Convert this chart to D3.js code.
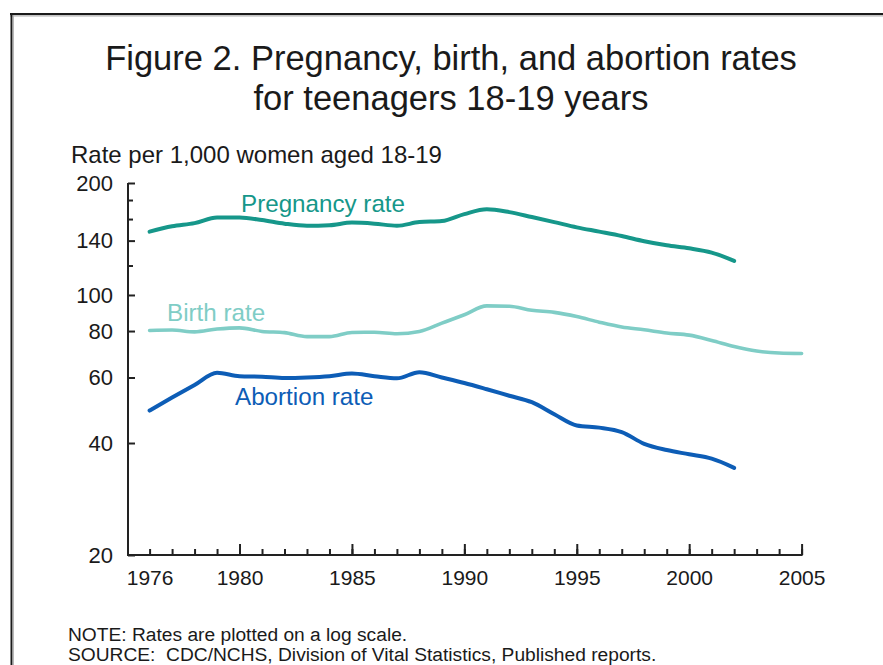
<!DOCTYPE html>
<html>
<head>
<meta charset="utf-8">
<script src="https://cdn.jsdelivr.net/npm/d3@7"></script>
<style>
  html, body { margin: 0; padding: 0; background: #fff; }
  svg { display: block; font-family: "Liberation Sans", Arial, Helvetica, sans-serif; }
</style>
</head>
<body>
<svg id="chart" width="883" height="665"></svg>
<script>
// ---- Data ----
const years = [1976,1977,1978,1979,1980,1981,1982,1983,1984,1985,1986,1987,1988,1989,1990,
               1991,1992,1993,1994,1995,1996,1997,1998,1999,2000,2001,2002,2003,2004,2005];
const pregnancyRate = [148,153,156,161.5,161.5,159,155.5,153.5,154,156.5,155.5,153.5,157,158,165,
                       170,167,162,157,152,148,144,139.5,136,133.5,130,123.5];
const birthRate = [80.3,80.5,79.6,81,81.6,79.8,79.2,77.3,77.3,79.3,79.4,78.7,79.8,84,88.5,
                   93.5,93.3,91,89.8,87.5,84.5,82,80.6,79,78,75.5,72.7,70.7,69.8,69.6];
const abortionRate = [48.9,53,57.3,61.8,60.5,60.3,59.8,60,60.5,61.5,60.5,59.7,62,60,58,
                      55.8,53.6,51.5,47.8,44.6,44,42.8,39.8,38.3,37.3,36.3,34.3];
const yMajorTicks = [200,140,100,80,60,40,20];
const yMinorTicks = [180,160,120];
const xMajorTicks = [1976,1980,1985,1990,1995,2000,2005];
const xLongTicks = [1980,1985,1990,1995,2000,2005];
const seriesNames = ["Pregnancy rate","Birth rate","Abortion rate"];
const titleLines = ["Figure 2. Pregnancy, birth, and abortion rates","for teenagers 18-19 years"];
const yTitle = "Rate per 1,000 women aged 18-19";
const notes = ["NOTE: Rates are plotted on a log scale.",
               "SOURCE:  CDC/NCHS, Division of Vital Statistics, Published reports."];

// ---- Layout ----
const svg = d3.select("#chart");
const axisX = 128;
const x = d3.scaleLinear().domain([1976, 2005]).range([149.6, 801.6]);
const y = d3.scaleLog().domain([20, 200]).range([555, 183]);

// frame (top and left edges)
svg.append("line").attr("x1", 10).attr("x2", 883).attr("y1", 14).attr("y2", 14)
  .attr("stroke", "#1b1b1b").attr("stroke-width", 2);
svg.append("line").attr("x1", 10).attr("x2", 883).attr("y1", 15.8).attr("y2", 15.8)
  .attr("stroke", "#b0b0b0").attr("stroke-width", 1.2);
svg.append("line").attr("x1", 11.5).attr("x2", 11.5).attr("y1", 13).attr("y2", 665)
  .attr("stroke", "#1b1b1b").attr("stroke-width", 2);
svg.append("line").attr("x1", 13.3).attr("x2", 13.3).attr("y1", 15).attr("y2", 665)
  .attr("stroke", "#b0b0b0").attr("stroke-width", 1.2);

// title
svg.append("g").selectAll("text").data(titleLines).join("text")
  .attr("x", 451).attr("y", (d, i) => 70 + i * 40)
  .attr("text-anchor", "middle").attr("font-size", 34.5).attr("fill", "#1a1a1a")
  .text(d => d);

// y axis title
svg.append("text").attr("x", 71).attr("y", 163).attr("font-size", 24).attr("fill", "#1a1a1a").text(yTitle);

const axisColor = "#222";

// y axis
const gy = svg.append("g").attr("transform", `translate(${axisX},0)`);
gy.call(d3.axisLeft(y).tickValues(yMajorTicks).tickFormat(d3.format("d"))
  .tickSizeInner(-7).tickSizeOuter(0).tickPadding(15));
gy.append("g").call(d3.axisLeft(y).tickValues(yMinorTicks).tickFormat("")
  .tickSizeInner(-5).tickSizeOuter(0));
gy.selectAll(".domain").remove();
gy.selectAll("line").attr("stroke", axisColor).attr("stroke-width", 2);
gy.selectAll("text").attr("font-size", 22).attr("fill", "#1a1a1a").attr("font-family", null);
gy.append("line").attr("x1", 0).attr("x2", 0).attr("y1", y(20) + 1).attr("y2", y(200))
  .attr("stroke", axisColor).attr("stroke-width", 2);

// x axis
const gx = svg.append("g").attr("transform", `translate(0,${y(20)})`);
gx.append("g").call(d3.axisBottom(x).tickValues(d3.range(1976, 2006)).tickFormat("")
  .tickSizeInner(-6).tickSizeOuter(0));
gx.append("g").call(d3.axisBottom(x).tickValues(xLongTicks).tickFormat("")
  .tickSizeInner(-11).tickSizeOuter(0));
gx.append("g").call(d3.axisBottom(x).tickValues(xMajorTicks).tickFormat(d3.format("d"))
  .tickSize(0).tickPadding(15));
gx.selectAll(".domain").remove();
gx.selectAll("line").attr("stroke", axisColor).attr("stroke-width", 2);
gx.selectAll("text").attr("font-size", 21).attr("fill", "#1a1a1a").attr("font-family", null);
gx.append("line").attr("x1", axisX - 1).attr("x2", x(2005) + 1).attr("y1", 0).attr("y2", 0)
  .attr("stroke", axisColor).attr("stroke-width", 2);

// series
const series = [
  { name: seriesNames[0], values: pregnancyRate, color: "#16978a", width: 4, lx: 241, ly: 212 },
  { name: seriesNames[1], values: birthRate, color: "#7fcdc6", width: 3.6, lx: 167, ly: 321 },
  { name: seriesNames[2], values: abortionRate, color: "#0d5db6", width: 4, lx: 235, ly: 405 }
];
const line = d3.line().x(d => x(d[0])).y(d => y(d[1])).curve(d3.curveMonotoneX);
series.forEach(s => {
  const pts = s.values.map((v, i) => [years[i], v]);
  svg.append("path").datum(pts).attr("d", line).attr("fill", "none")
    .attr("stroke", s.color).attr("stroke-width", s.width)
    .attr("stroke-linecap", "round").attr("stroke-linejoin", "round");
  svg.append("text").attr("x", s.lx).attr("y", s.ly).attr("font-size", 24.2)
    .attr("fill", s.color).text(s.name);
});

// notes
svg.append("g").selectAll("text").data(notes).join("text")
  .attr("x", 68).attr("y", (d, i) => 641 + i * 20)
  .attr("font-size", 19.2).attr("fill", "#1a1a1a").style("white-space", "pre")
  .text(d => d);
</script>
</body>
</html>
